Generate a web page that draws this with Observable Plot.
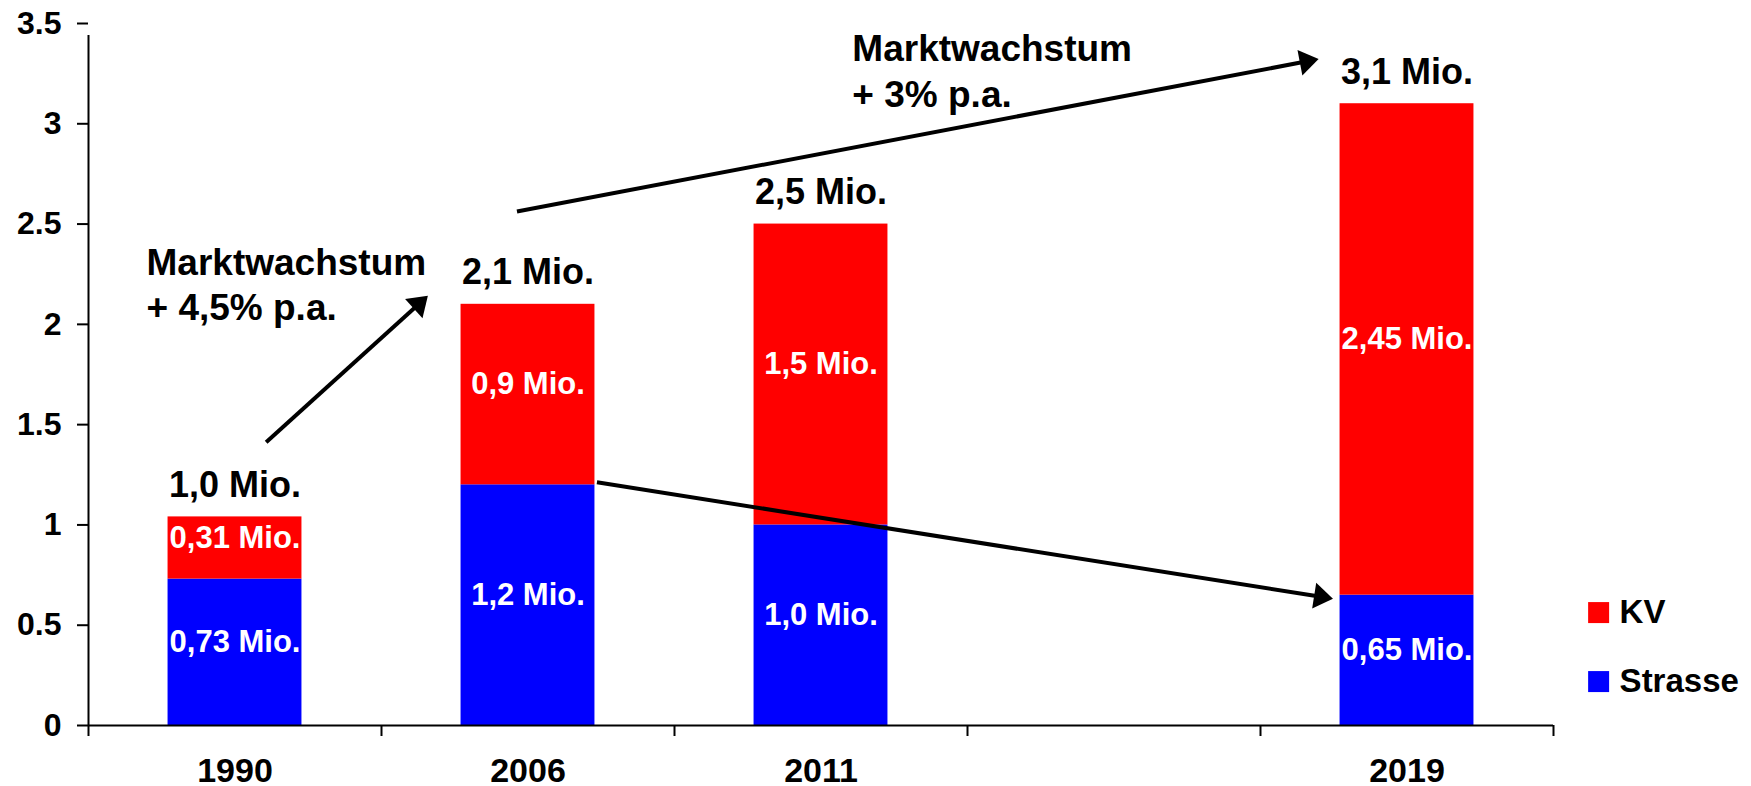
<!DOCTYPE html>
<html>
<head>
<meta charset="utf-8">
<script src="https://cdn.jsdelivr.net/npm/d3@7"></script>
<script src="https://cdn.jsdelivr.net/npm/@observablehq/plot@0.6"></script>
<style>
  html, body { margin: 0; padding: 0; background: #ffffff; }
  #chart svg { display: block; }
</style>
</head>
<body>
<div id="chart"></div>
<script>
// ---- data ----
const categories = ["1990", "2006", "2011", "", "2019"];   // "" = empty slot on the time axis
const strasse = [0.73, 1.2, 1.0, null, 0.65];
const kv = [0.31, 0.9, 1.5, null, 2.45];
const totalLabels = ["1,0 Mio.", "2,1 Mio.", "2,5 Mio.", "", "3,1 Mio."];
const strasseLabels = ["0,73 Mio.", "1,2 Mio.", "1,0 Mio.", "", "0,65 Mio."];
const kvLabels = ["0,31 Mio.", "0,9 Mio.", "1,5 Mio.", "", "2,45 Mio."];
const yTicks = [0, 0.5, 1, 1.5, 2, 2.5, 3, 3.5];
const seriesNames = ["KV", "Strasse"];
const seriesColors = ["#ff0000", "#0000ff"];
const growthTexts = ["Marktwachstum\n+ 4,5% p.a.", "Marktwachstum\n+ 3% p.a."];
// annotation anchors in data units (x = slot units, y = Mio.)
const growthAnchors = [{x: 0.198, y: 2.02}, {x: 2.607, y: 3.086}];
const arrows = [
  {x1: 0.608, y1: 1.41, x2: 1.16, y2: 2.14},
  {x1: 1.464, y1: 2.56, x2: 4.20, y2: 3.32},
  {x1: 1.737, y1: 1.21, x2: 4.249, y2: 0.63}
];

// ---- derived tables ----
const slotIdx = categories.map((c, i) => i);
const barSlots = slotIdx.filter(i => categories[i] !== "");
const rows = barSlots.flatMap(i => [
  {i, series: "Strasse", y1: 0, y2: strasse[i], label: strasseLabels[i]},
  {i, series: "KV", y1: strasse[i], y2: strasse[i] + kv[i], label: kvLabels[i]}
]);
const totals = barSlots.map(i => ({i, total: strasse[i] + kv[i], label: totalLabels[i]}));
const yearRows = barSlots.map(i => ({i, label: categories[i]}));
const growthRows = growthTexts.map((t, k) => ({...growthAnchors[k], text: t}));
const legendRows = seriesNames.map((s, k) => ({series: s, k}));
const bw = 0.457;
const font = "'Liberation Sans', Arial, Helvetica, sans-serif";

function arrowMark(index, scales) {
  const g = d3.create("svg:g");
  const L = 19, W = 13, sw = 4;
  for (const a of arrows) {
    const x1 = scales.x(a.x1), y1 = scales.y(a.y1);
    const x2 = scales.x(a.x2), y2 = scales.y(a.y2);
    const ang = Math.atan2(y2 - y1, x2 - x1);
    const c = Math.cos(ang), s = Math.sin(ang);
    const bx = x2 - L * c, by = y2 - L * s;
    g.append("line")
      .attr("x1", x1).attr("y1", y1)
      .attr("x2", bx + 2 * c).attr("y2", by + 2 * s)
      .attr("stroke", "#000").attr("stroke-width", sw);
    g.append("path")
      .attr("d", `M${x2},${y2}L${bx - s * W},${by + c * W}L${bx + s * W},${by - c * W}Z`)
      .attr("fill", "#000");
  }
  return g.node();
}

const chart = Plot.plot({
  width: 1751,
  height: 786,
  marginLeft: 88,
  marginRight: 198,
  marginTop: 23,
  marginBottom: 61,
  style: {fontFamily: font, background: "#ffffff", overflow: "visible"},
  x: {domain: [0, 5], axis: null},
  y: {domain: [0, 3.5], axis: null},
  color: {domain: seriesNames, range: seriesColors},
  marks: [
    Plot.rectY(rows, {
      x1: d => d.i + 0.5 - bw / 2,
      x2: d => d.i + 0.5 + bw / 2,
      y1: "y1", y2: "y2", fill: "series"
    }),
    // axes
    Plot.ruleY([0], {stroke: "#000", strokeWidth: 2}),
    Plot.ruleX([0], {y1: 0, y2: 3.5, stroke: "#000", strokeWidth: 2, insetBottom: -12}),
    Plot.axisY(yTicks, {
      tickSize: 11, tickPadding: 16, strokeWidth: 2, stroke: "#000",
      fontSize: 32, fontWeight: "bold", fill: "#000", label: null,
      tickFormat: d => String(d)
    }),
    Plot.axisX([0, 1, 2, 3, 4, 5], {
      tickSize: 11, strokeWidth: 2, stroke: "#000", tickFormat: () => "", label: null
    }),
    Plot.text(yearRows, {
      x: d => d.i + 0.5, y: () => 0, text: "label", dy: 56, lineAnchor: "bottom",
      fontSize: 34, fontWeight: "bold", fill: "#000"
    }),
    // segment labels
    Plot.text(rows, {
      x: d => d.i + 0.5, y: d => (d.y1 + d.y2) / 2, text: "label", dy: -10,
      fill: "#ffffff", fontSize: 31, fontWeight: "bold"
    }),
    // total labels
    Plot.text(totals, {
      x: d => d.i + 0.5, y: "total", text: "label", dy: -20, lineAnchor: "bottom",
      fill: "#000", fontSize: 36, fontWeight: "bold"
    }),
    // growth annotations
    Plot.text(growthRows, {
      x: "x", y: "y", text: "text", textAnchor: "start", lineAnchor: "bottom",
      lineHeight: 1.22, fill: "#000", fontSize: 37, fontWeight: "bold"
    }),
    arrowMark,
    // legend
    Plot.dot(legendRows, {
      x: () => 5.154, y: d => [0.563, 0.219][d.k], symbol: "square",
      r: 11.85, fill: "series", stroke: null
    }),
    Plot.text(legendRows, {
      x: () => 5.154, y: d => [0.563, 0.219][d.k], text: "series", dx: 21,
      textAnchor: "start", fill: "#000", fontSize: 33, fontWeight: "bold"
    })
  ]
});
document.getElementById("chart").appendChild(chart);
</script>
</body>
</html>
